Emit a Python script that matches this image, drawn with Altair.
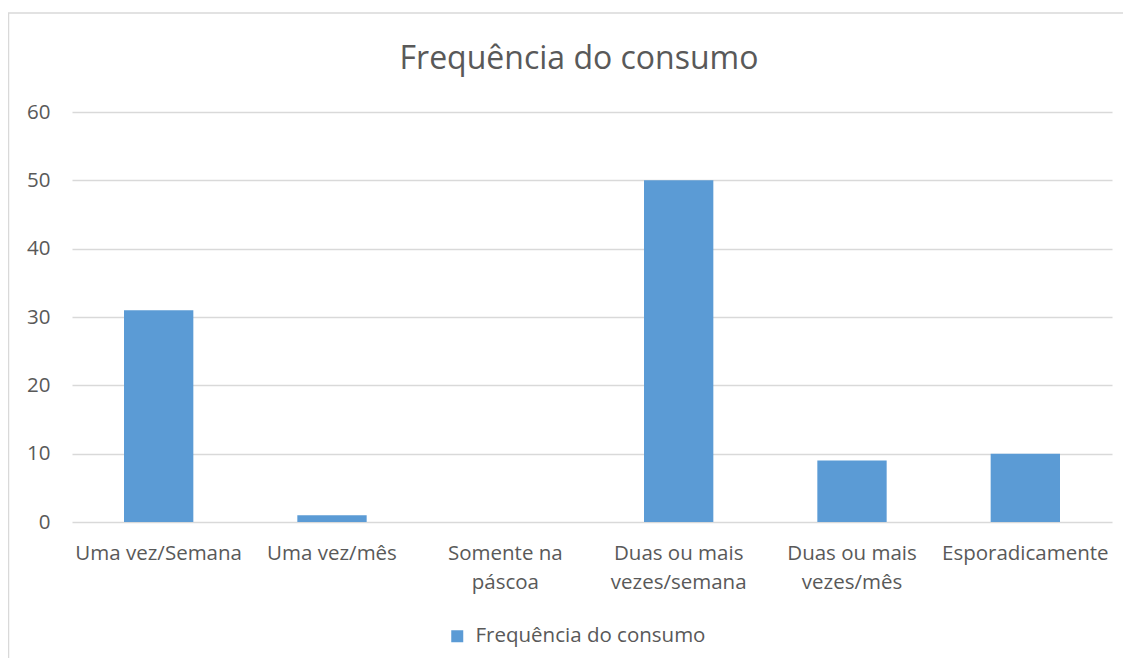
import altair as alt
import pandas as pd

categories = [
    "Uma vez/Semana",
    "Uma vez/mês",
    "Somente na páscoa",
    "Duas ou mais vezes/semana",
    "Duas ou mais vezes/mês",
    "Esporadicamente",
]
values = [31, 1, 0, 50, 9, 10]
series_name = "Frequência do consumo"
chart_title = "Frequência do consumo"
y_ticks = [0, 10, 20, 30, 40, 50, 60]

df = pd.DataFrame({"categoria": categories, "valor": values, "serie": [series_name] * len(categories)})

FONT = "Open Sans"
TEXT = "#595959"
GRID = "#D9D9D9"
BLUE = "#5B9BD5"

label_expr = (
    "datum.label == 'Somente na páscoa' ? ['Somente na', 'páscoa'] : "
    "datum.label == 'Duas ou mais vezes/semana' ? ['Duas ou mais', 'vezes/semana'] : "
    "datum.label == 'Duas ou mais vezes/mês' ? ['Duas ou mais', 'vezes/mês'] : datum.label"
)

bars = alt.Chart(df).mark_bar().encode(
    x=alt.X(
        "categoria:N",
        sort=categories,
        scale=alt.Scale(paddingInner=0.6, paddingOuter=0.3),
        axis=alt.Axis(
            title=None,
            labelAngle=0,
            labelExpr=label_expr,
            labelFont=FONT,
            labelFontSize=20.5,
            labelColor=TEXT,
            labelPadding=21,
            labelLineHeight=29,
            labelBaseline="top",
            ticks=False,
            domain=False,
            grid=False,
            labelLimit=300,
        ),
    ),
    y=alt.Y(
        "valor:Q",
        scale=alt.Scale(domain=[0, 60], nice=False),
        axis=alt.Axis(
            title=None,
            values=y_ticks,
            labelFont=FONT,
            labelFontSize=20.5,
            labelColor=TEXT,
            labelPadding=22,
            ticks=False,
            domain=False,
            gridColor=GRID,
            gridWidth=1.5,
        ),
    ),
    color=alt.Color(
        "serie:N",
        scale=alt.Scale(range=[BLUE]),
        legend=alt.Legend(
            title=None,
            orient="none",
            legendX=375,
            legendY=514,
            symbolType="square",
            symbolSize=144,
            symbolStrokeWidth=0,
            symbolOpacity=1,
            labelFont=FONT,
            labelFontSize=20.5,
            labelColor=TEXT,
            labelOffset=8,
            labelLimit=400,
            padding=0,
        ),
    ),
)

frame = alt.Chart(pd.DataFrame({"a": [0]})).mark_rect(
    fill="transparent", stroke=GRID, strokeWidth=1.5
).encode(
    x=alt.value(-63.5), x2=alt.value(1200), y=alt.value(-99), y2=alt.value(700)
)

title = alt.Chart(pd.DataFrame({"t": [chart_title]})).mark_text(
    font=FONT, fontSize=32, color=TEXT, align="center", baseline="alphabetic"
).encode(
    text="t:N", x=alt.value(507), y=alt.value(-43)
)

chart = alt.layer(frame, bars, title).properties(
    width=1040,
    height=410,
    padding={"left": 64, "top": 104, "right": 11, "bottom": 136},
    autosize=alt.AutoSizeParams(type="none"),
).configure(
    background="white",
    view=alt.ViewConfig(stroke="transparent", strokeWidth=0),
)

chart.save("out.html", embed_options={"renderer": "svg", "actions": False})
